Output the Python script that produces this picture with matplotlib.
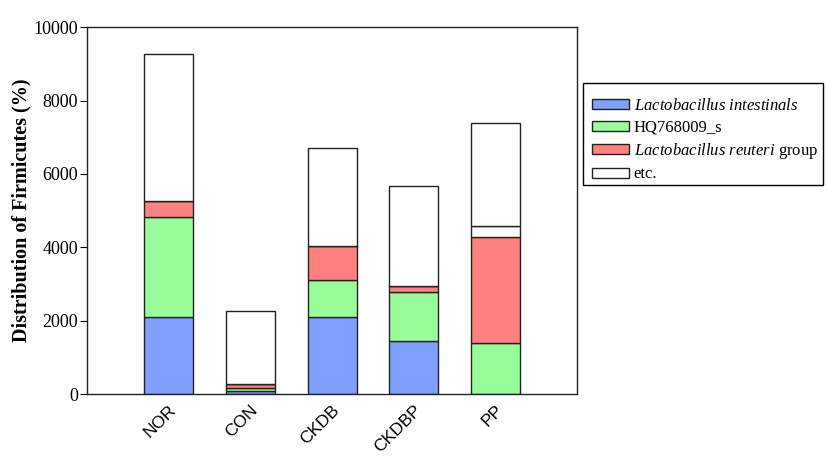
import matplotlib
matplotlib.use('Agg')
import matplotlib.pyplot as plt
from matplotlib.patches import Rectangle
import numpy as np

groups = ['NOR', 'CON', 'CKDB', 'CKDBP', 'PP']
intestinalis = [2090, 95, 2090, 1455, 0]
hq768009 = [2730, 65, 1020, 1320, 1390]
reuteri = [455, 115, 930, 180, 2900]
extra = [0, 0, 0, 0, 300]
etc = [3995, 1995, 2665, 2720, 2810]

labels = [r'$\it{Lactobacillus\ intestinals}$', 'HQ768009_s',
          r'$\it{Lactobacillus\ reuteri}$ group', 'etc.']
colors = ['#80a0ff', '#98fd98', '#ff8080', 'white']

plt.rcParams['font.family'] = ['Liberation Serif', 'DejaVu Serif']
plt.rcParams['mathtext.fontset'] = 'custom'
plt.rcParams['mathtext.rm'] = 'Liberation Serif'
plt.rcParams['mathtext.it'] = 'Liberation Serif:italic'

W, H = 827, 463
fig = plt.figure(figsize=(8.27, 4.63), dpi=100)
ax = fig.add_axes([0.105, 0.149, 0.593, 0.792])

x = np.arange(1, len(groups) + 1)
series = [intestinalis, hq768009, reuteri, extra, etc]
series_colors = colors[:3] + ['white', 'white']
series_labels = labels[:3] + ['_nolegend_', labels[3]]
bottom = np.zeros(len(groups))
for vals, c, lab in zip(series, series_colors, series_labels):
    ax.bar(x, vals, 0.6, bottom=bottom, color=c, edgecolor='#222222',
           linewidth=1.0, label=lab)
    bottom += np.array(vals)

ax.set_xlim(0, 6)
ax.set_ylim(0, 10000)
ax.set_yticks(range(0, 10001, 2000))
ax.set_xticks(x)
ax.set_xticklabels(groups, rotation=45, ha='right', rotation_mode='anchor',
                   family='Liberation Sans', fontsize=12.5)
ax.tick_params(axis='x', length=0, pad=6)
ax.tick_params(axis='y', direction='out', length=5, labelsize=13, pad=1.5)
ax.set_ylabel('Distribution of Firmicutes (%)', fontsize=14.5,
              fontweight='bold', labelpad=1)
for s in ax.spines.values():
    s.set_linewidth(1.0)
    s.set_color('#222222')

# legend entries without frame, frame drawn separately
handles, labs = ax.get_legend_handles_labels()
leg = fig.legend(handles, labs, loc='upper left',
                 bbox_to_anchor=(592 / W, 1 - 98 / H), borderaxespad=0,
                 frameon=False, fontsize=12,
                 handlelength=2.2, handleheight=0.55, labelspacing=0.33,
                 handletextpad=0.3, borderpad=0)
fig.add_artist(Rectangle((583 / W, 1 - 185 / H), 240 / W, 102 / H,
                         transform=fig.transFigure, facecolor='none',
                         edgecolor='black', linewidth=1.0))

fig.savefig('out.png', dpi=100)
